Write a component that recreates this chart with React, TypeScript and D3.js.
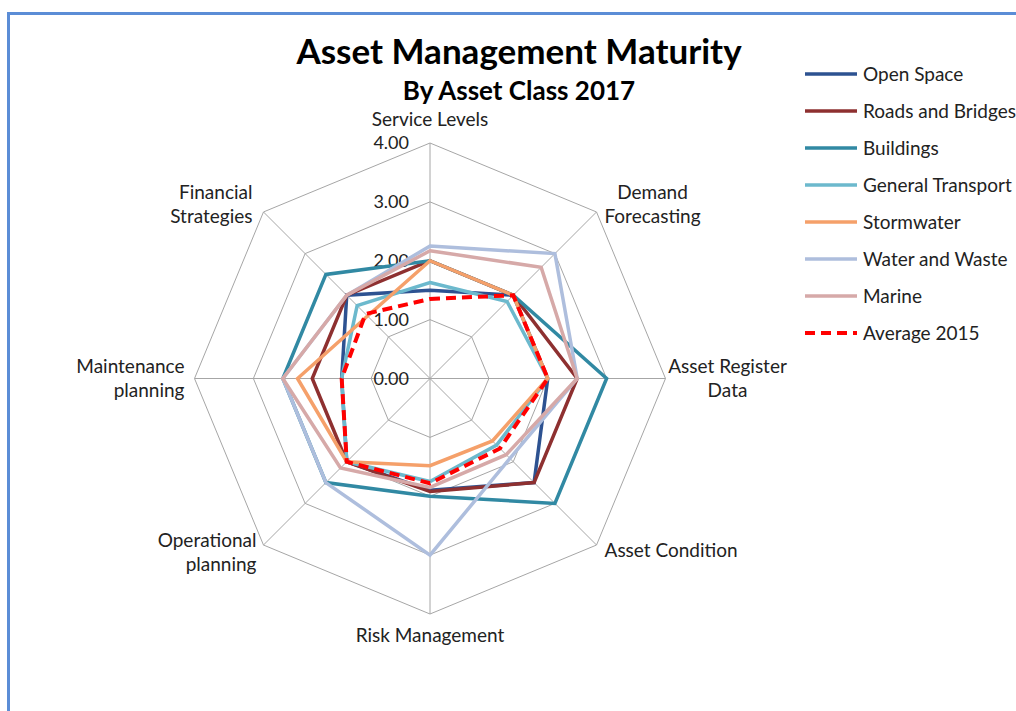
import * as d3 from "d3";

const axes = [
  "Service Levels",
  "Demand\nForecasting",
  "Asset Register\nData",
  "Asset Condition",
  "Risk Management",
  "Operational\nplanning",
  "Maintenance\nplanning",
  "Financial\nStrategies",
];

const seriesNames = [
  "Open Space",
  "Roads and Bridges",
  "Buildings",
  "General Transport",
  "Stormwater",
  "Water and Waste",
  "Marine",
  "Average 2015",
];

const openSpace = [1.5, 2.0, 2.0, 2.5, 1.9, 2.0, 1.5, 2.0];
const roadsAndBridges = [2.0, 2.0, 2.5, 2.5, 1.92, 2.0, 2.0, 2.0];
const buildings = [2.0, 2.0, 3.0, 3.0, 2.0, 2.5, 2.5, 2.5];
const generalTransport = [1.63, 1.85, 2.0, 1.6, 1.75, 2.0, 1.5, 1.75];
const stormwater = [2.0, 2.0, 2.0, 1.5, 1.48, 2.0, 2.25, 1.5];
const waterAndWaste = [2.25, 3.0, 2.5, 1.92, 3.0, 2.5, 2.5, 2.0];
const marine = [2.17, 2.67, 2.5, 1.83, 1.85, 2.15, 2.5, 2.0];
const average2015 = [1.35, 2.0, 2.0, 1.68, 1.78, 2.0, 1.5, 1.55];

const seriesValues = [
  openSpace,
  roadsAndBridges,
  buildings,
  generalTransport,
  stormwater,
  waterAndWaste,
  marine,
  average2015,
];

const colors = ["#2D5291", "#8E3030", "#3189A3", "#6CB9CD", "#F5A06A", "#AEBEDD", "#D6A9A8", "#FF0000"];

const ticks = [0, 1, 2, 3, 4];

const W = 1016;
const H = 711;
const cx = 430;
const cy = 378.5;
const R = 235.5;
const FONT = "Lato, 'Open Sans', sans-serif";

// label placement relative to each spoke's outer vertex
const labelPlace: { anchor: string; dx: number; dy: number }[] = [
  { anchor: "middle", dx: 0, dy: -17 },
  { anchor: "middle", dx: 56, dy: -13 },
  { anchor: "middle", dx: 62, dy: -6 },
  { anchor: "start", dx: 8, dy: 12 },
  { anchor: "middle", dx: 0, dy: 28 },
  { anchor: "end", dx: -7, dy: 2 },
  { anchor: "end", dx: -10, dy: -6 },
  { anchor: "end", dx: -11, dy: -13 },
];

export default function App() {
  const r = d3.scaleLinear().domain([0, 4]).range([0, R]);
  const angle = d3
    .scalePoint<number>()
    .domain(d3.range(axes.length + 1))
    .range([0, 2 * Math.PI]);

  const radar = d3
    .lineRadial<number>()
    .angle((_, i) => angle(i) as number)
    .radius((d) => r(d))
    .curve(d3.curveLinearClosed);

  const ring = (v: number) => radar(axes.map(() => v)) as string;

  const vertex = (i: number, v: number) => {
    const a = angle(i) as number;
    return [Math.sin(a) * r(v), -Math.cos(a) * r(v)];
  };

  const legendY = d3.scaleLinear().domain([0, 1]).range([74, 111]);

  return (
    <svg width={W} height={H} style={{ position: "absolute", left: 0, top: 0, background: "#fff" }} fontFamily={FONT}>
      <rect x={8.5} y={13.5} width={W + 20} height={H + 20} fill="none" stroke="#5B8DD6" strokeWidth={3} />

      <text x={519} y={64} textAnchor="middle" fontSize={35} fontWeight={700} fill="#000">
        Asset Management Maturity
      </text>
      <text x={519} y={100} textAnchor="middle" fontSize={26} fontWeight={700} fill="#000">
        By Asset Class 2017
      </text>

      <g transform={`translate(${cx},${cy})`}>
        {ticks.slice(1).map((t) => (
          <path key={t} d={ring(t)} fill="none" stroke="#A6A6A6" strokeWidth={1} />
        ))}
        {axes.map((_, i) => {
          const [x, y] = vertex(i, 4);
          return <line key={i} x1={0} y1={0} x2={x} y2={y} stroke="#A6A6A6" strokeWidth={1} />;
        })}
        {ticks.map((t) => (
          <text key={t} x={-21} y={-r(t)} dy="0.35em" textAnchor="end" fontSize={18} fill="#222">
            {t.toFixed(2)}
          </text>
        ))}

        {seriesValues.map((vals, s) => (
          <path
            key={s}
            d={radar(vals) as string}
            fill="none"
            stroke={colors[s]}
            strokeWidth={s === 7 ? 4 : 3.5}
            strokeDasharray={s === 7 ? "10 6" : undefined}
            strokeLinejoin="miter"
          />
        ))}

        {axes.map((label, i) => {
          const [x, y] = vertex(i, 4);
          const p = labelPlace[i];
          const lines = label.split("\n");
          return (
            <text key={i} x={x + p.dx} y={y + p.dy} textAnchor={p.anchor} fontSize={19} fill="#222">
              {lines.map((ln, k) => (
                <tspan key={k} x={x + p.dx} dy={k === 0 ? 0 : 24}>
                  {ln}
                </tspan>
              ))}
            </text>
          );
        })}
      </g>

      <g>
        {seriesNames.map((name, s) => {
          const y = legendY(s);
          return (
            <g key={name}>
              <line
                x1={805}
                x2={857}
                y1={y}
                y2={y}
                stroke={colors[s]}
                strokeWidth={s === 7 ? 4 : 3.5}
                strokeDasharray={s === 7 ? "10 6" : undefined}
              />
              <text x={863} y={y} dy="0.35em" fontSize={19} fill="#222">
                {name}
              </text>
            </g>
          );
        })}
      </g>
    </svg>
  );
}
